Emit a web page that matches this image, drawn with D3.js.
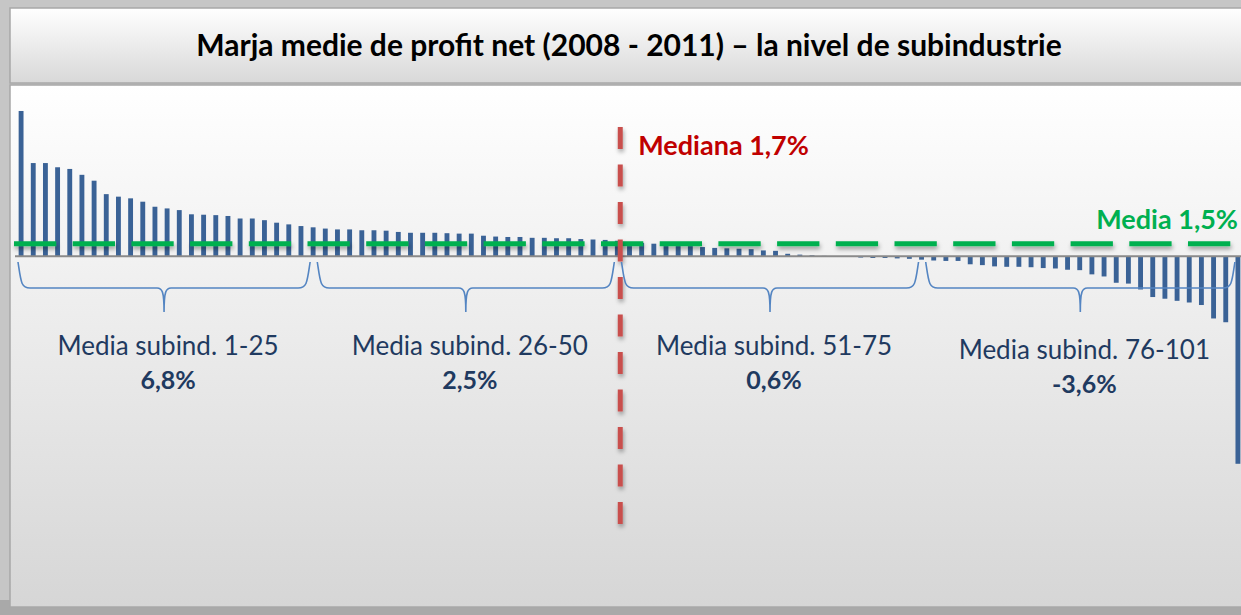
<!DOCTYPE html>
<html>
<head>
<meta charset="utf-8">
<script src="https://cdn.jsdelivr.net/npm/d3@7"></script>
<style>
  html, body { margin: 0; padding: 0; background: #c6c6c6; }
  svg { display: block; }
  text { font-family: Lato, "Open Sans", sans-serif; }
</style>
</head>
<body>
<svg id="chart" width="1241" height="615"></svg>
<script>
// marja medie de profit net pe subindustrii (%), sortate descrescator
var valori = [
  17.3, 11.1, 11.1, 10.6, 10.4, 9.7, 9.0, 7.4, 7.1, 6.9,
  6.5, 5.9, 5.7, 5.5, 5.0, 4.95, 4.9, 4.8, 4.5, 4.5,
  4.3, 4.0, 3.8, 3.6, 3.45, 3.3, 3.2, 3.2, 3.1, 3.1,
  3.05, 2.9, 2.8, 2.8, 2.8, 2.75, 2.7, 2.7, 2.45, 2.35,
  2.3, 2.3, 2.2, 2.2, 2.15, 2.15, 2.05, 2.0, 1.95, 1.85,
  1.7, 1.6, 1.5, 1.4, 1.3, 1.25, 1.1, 1.0, 0.95, 0.9,
  0.85, 0.7, 0.65, 0.3, 0.2, 0.12, 0.05, 0.02, -0.02, -0.15,
  -0.2, -0.2, -0.25, -0.3, -0.4, -0.5, -0.55, -0.55, -0.95, -1.05,
  -1.2, -1.25, -1.25, -1.3, -1.4, -1.45, -1.6, -1.65, -2.15, -2.4,
  -3.15, -3.25, -3.95, -4.85, -5.05, -5.3, -5.5, -5.8, -7.4, -7.85,
  -24.7
];
var ranguri = d3.range(1, valori.length + 1);

// grupe de cate 25 subindustrii
var grupe = [[1, 25], [26, 50], [51, 75], [76, 101]];
var eticheteGrupe = ["Media subind. 1-25", "Media subind. 26-50", "Media subind. 51-75", "Media subind. 76-101"];
var mediiGrupe = ["6,8%", "2,5%", "0,6%", "-3,6%"];

var media = 1.5, mediana = 1.7;
var textMedia = "Media 1,5%", textMediana = "Mediana 1,7%";
var titlu = "Marja medie de profit net (2008 - 2011) \u2013 la nivel de subindustrie";

var svg = d3.select("#chart");
var defs = svg.append("defs");

// fundaluri cu gradient
var g1 = defs.append("linearGradient").attr("id", "gradTitlu").attr("x1", 0).attr("y1", 0).attr("x2", 0).attr("y2", 1);
g1.append("stop").attr("offset", "0%").attr("stop-color", "#ffffff");
g1.append("stop").attr("offset", "100%").attr("stop-color", "#d8d8d8");
var g2 = defs.append("linearGradient").attr("id", "gradGrafic").attr("x1", 0).attr("y1", 0).attr("x2", 0).attr("y2", 1);
g2.append("stop").attr("offset", "0%").attr("stop-color", "#ffffff");
g2.append("stop").attr("offset", "100%").attr("stop-color", "#d6d6d6");

// umbra pt liniile punctate (userSpaceOnUse, altfel dispar liniile drepte)
var umbra = defs.append("filter").attr("id", "umbra")
  .attr("filterUnits", "userSpaceOnUse")
  .attr("x", 0).attr("y", 0).attr("width", 1241).attr("height", 615);
umbra.append("feDropShadow").attr("dx", 1).attr("dy", 3).attr("stdDeviation", 2)
  .attr("flood-color", "#000").attr("flood-opacity", 0.35);

svg.append("rect").attr("x", 0).attr("y", 600).attr("width", 1241).attr("height", 15).attr("fill", "#a9a9a9");
svg.append("rect").attr("x", 10).attr("y", 8).attr("width", 1240).attr("height", 75)
  .attr("fill", "url(#gradTitlu)").attr("stroke", "#a8a8a8").attr("stroke-width", 1.5);
svg.append("rect").attr("x", 10).attr("y", 85).attr("width", 1240).attr("height", 522)
  .attr("fill", "url(#gradGrafic)").attr("stroke", "#a8a8a8").attr("stroke-width", 1.5);

svg.append("text")
  .attr("x", 629).attr("y", 56)
  .attr("text-anchor", "middle")
  .attr("font-size", 30).attr("font-weight", "bold").attr("fill", "#000")
  .text(titlu);

// scale
var x = d3.scaleBand().domain(ranguri).range([15, 1244]).paddingInner(0.6).paddingOuter(0.3);
var y = d3.scaleLinear().domain([-26, 18]).range([474.7, 105.1]);
var bw = x.bandwidth();
var xc = function (r) { return x(r) + bw / 2; };

// bare
svg.append("g").selectAll("rect")
  .data(valori)
  .join("rect")
  .attr("x", function (d, i) { return x(ranguri[i]); })
  .attr("y", function (d) { return Math.min(y(d), y(0)); })
  .attr("width", bw)
  .attr("height", function (d) { return Math.abs(y(d) - y(0)); })
  .attr("fill", "#3a6296");

// axa orizontala
svg.append("line")
  .attr("x1", 15).attr("x2", 1241)
  .attr("y1", y(0)).attr("y2", y(0))
  .attr("stroke", "#8a8a8a").attr("stroke-width", 2);

// linia mediei
svg.append("line")
  .attr("x1", 14).attr("x2", 1231)
  .attr("y1", y(media)).attr("y2", y(media))
  .attr("stroke", "#00b050").attr("stroke-width", 5)
  .attr("stroke-dasharray", "42.3 16.4")
  .attr("filter", "url(#umbra)");

svg.append("text")
  .attr("x", 1238).attr("y", y(media) - 15)
  .attr("text-anchor", "end")
  .attr("font-size", 27).attr("font-weight", "bold").attr("fill", "#00b050")
  .text(textMedia);

// linia medianei (intre rangurile 50 si 51)
var xMed = x(50) + bw + 0.5;
svg.append("line")
  .attr("x1", xMed).attr("x2", xMed)
  .attr("y1", 127).attr("y2", 524)
  .attr("stroke", "#c9504e").attr("stroke-width", 5)
  .attr("stroke-dasharray", "22 15.5")
  .attr("filter", "url(#umbra)");

svg.append("text")
  .attr("x", xMed + 18).attr("y", 155)
  .attr("font-size", 27).attr("font-weight", "bold").attr("fill", "#c00000")
  .text(textMediana);

// acolade sub fiecare grupa
function acolada(x0, x1) {
  var y0 = 262, ym = 288, yt = 312, xm = (x0 + x1) / 2;
  return "M" + x0 + "," + y0 +
    " C" + (x0 + 3) + "," + (y0 + 20) + " " + (x0 + 3) + "," + ym + " " + (x0 + 12) + "," + ym +
    " L" + (xm - 7) + "," + ym +
    " C" + (xm - 2) + "," + ym + " " + xm + "," + (ym + 3) + " " + xm + "," + yt +
    " C" + xm + "," + (ym + 3) + " " + (xm + 2) + "," + ym + " " + (xm + 7) + "," + ym +
    " L" + (x1 - 12) + "," + ym +
    " C" + (x1 - 3) + "," + ym + " " + (x1 - 3) + "," + (y0 + 20) + " " + x1 + "," + y0;
}
var stanga = function (d) { return Math.max(xc(d[0]) - 8, 18); };
var dreapta = function (d) { return xc(d[1]) - 3; };

var gr = svg.append("g").selectAll("g").data(grupe).join("g");
gr.append("path")
  .attr("d", function (d) { return acolada(stanga(d), dreapta(d)); })
  .attr("fill", "none").attr("stroke", "#5485c2").attr("stroke-width", 1.6);

gr.append("text")
  .attr("x", function (d) { return (stanga(d) + dreapta(d)) / 2 + 4; })
  .attr("y", function (d, i) { return i === 3 ? 359 : 355; })
  .attr("text-anchor", "middle")
  .attr("font-size", 26).attr("fill", "#1f3a60")
  .text(function (d, i) { return eticheteGrupe[i]; });

gr.append("text")
  .attr("x", function (d) { return (stanga(d) + dreapta(d)) / 2 + 4; })
  .attr("y", function (d, i) { return i === 3 ? 393 : 389; })
  .attr("text-anchor", "middle")
  .attr("font-size", 25).attr("font-weight", "bold").attr("fill", "#1f3a60")
  .text(function (d, i) { return mediiGrupe[i]; });
</script>
</body>
</html>
